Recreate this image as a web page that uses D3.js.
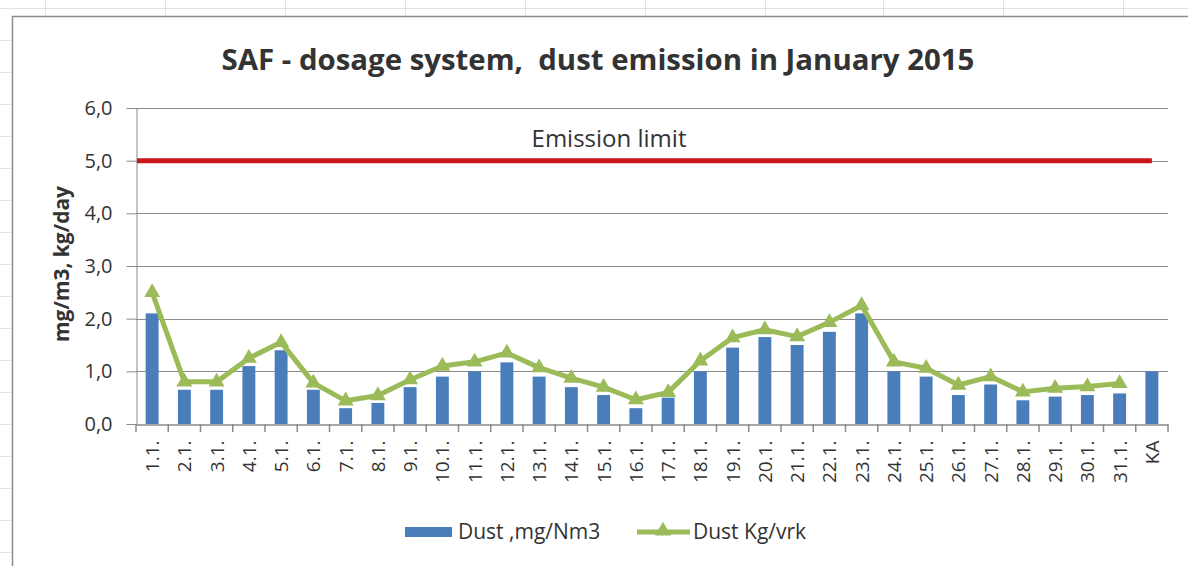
<!DOCTYPE html>
<html lang="en">
<head>
<meta charset="UTF-8">
<title>SAF dust emission January 2015</title>
<style>
  body { margin: 0; background: #fff; }
  text { font-family: "Open Sans", "Liberation Sans", sans-serif; fill: #333; }
  .grid line { stroke: #8a8a8a; stroke-width: 1; }
  .sheet line { stroke: #e2e2e2; stroke-width: 1; }
</style>
</head>
<body>
<svg width="1188" height="566"></svg>
<script src="https://d3js.org/d3.v7.min.js"></script>
<script>
// categories (days of January + KA = average)
var days = ["1.1.", "2.1.", "3.1.", "4.1.", "5.1.", "6.1.", "7.1.", "8.1.", "9.1.", "10.1.",
            "11.1.", "12.1.", "13.1.", "14.1.", "15.1.", "16.1.", "17.1.", "18.1.", "19.1.", "20.1.",
            "21.1.", "22.1.", "23.1.", "24.1.", "25.1.", "26.1.", "27.1.", "28.1.", "29.1.", "30.1.",
            "31.1.", "KA"];

// Dust, mg/Nm3 (bars)
var dustMg = [2.1, 0.65, 0.65, 1.1, 1.4, 0.65, 0.3, 0.4, 0.7, 0.9,
              1.0, 1.17, 0.9, 0.7, 0.55, 0.3, 0.5, 1.0, 1.45, 1.65,
              1.5, 1.75, 2.1, 1.0, 0.9, 0.55, 0.75, 0.45, 0.52, 0.55,
              0.58, 1.0];

// Dust, kg/vrk (line) - no value for KA
var dustKg = [2.5, 0.8, 0.8, 1.25, 1.55, 0.78, 0.44, 0.54, 0.84, 1.1,
              1.18, 1.35, 1.07, 0.87, 0.7, 0.46, 0.6, 1.2, 1.64, 1.79,
              1.66, 1.93, 2.25, 1.18, 1.06, 0.74, 0.9, 0.61, 0.68, 0.71,
              0.77];

var emissionLimit = 5.0;
var yTicks = [0, 1, 2, 3, 4, 5, 6];

var svg = d3.select("svg");

// spreadsheet cells behind the chart
var sheet = svg.append("g").attr("class", "sheet");
sheet.append("line").attr("x1", 0).attr("x2", 1188).attr("y1", 8.5).attr("y2", 8.5);
[45, 165, 285, 405, 525, 645, 765, 883, 1003, 1123].forEach(function (cx) {
    sheet.append("line").attr("x1", cx + 0.5).attr("x2", cx + 0.5).attr("y1", 0).attr("y2", 16);
});
d3.range(40, 566, 32).forEach(function (cy) {
    sheet.append("line").attr("x1", 0).attr("x2", 12).attr("y1", cy + 0.5).attr("y2", cy + 0.5);
});

// chart area border
svg.append("rect")
    .attr("x", 12.5).attr("y", 16.5)
    .attr("width", 1200).attr("height", 600)
    .attr("fill", "#fff")
    .attr("stroke", "#8c8c8c")
    .attr("stroke-width", 1.5);

var plotL = 136, plotR = 1168, plotT = 108, plotB = 424;

var x = d3.scaleBand().domain(days).range([plotL, plotR]).padding(0);
var y = d3.scaleLinear().domain([0, 6]).range([plotB, plotT]);

var fmt = function (d) { return d3.format(".1f")(d).replace(".", ","); };

// gridlines
svg.append("g").attr("class", "grid")
    .selectAll("line").data(yTicks.slice(1)).enter().append("line")
    .attr("x1", plotL).attr("x2", plotR)
    .attr("y1", function (d) { return Math.round(y(d)) + 0.5; })
    .attr("y2", function (d) { return Math.round(y(d)) + 0.5; });

// y axis
var yAxis = svg.append("g")
    .attr("transform", "translate(" + (plotL + 0.5) + ",0)")
    .call(d3.axisLeft(y).tickValues(yTicks).tickFormat(fmt).tickSize(10).tickSizeOuter(0).tickPadding(14));
yAxis.selectAll("path, line").attr("stroke", "#8a8a8a");
yAxis.selectAll("text").style("font-size", "20px").style("font-family", "\"Open Sans\", sans-serif").attr("fill", "#333");

// bars
var barW = x.bandwidth() * 0.4;
svg.append("g").selectAll("rect").data(dustMg).enter().append("rect")
    .attr("x", function (d, i) { return x(days[i]) + (x.bandwidth() - barW) / 2; })
    .attr("y", function (d) { return y(d); })
    .attr("width", barW)
    .attr("height", function (d) { return y(0) - y(d); })
    .attr("fill", "#4a7ebb");

// x axis
var xAxis = svg.append("g")
    .attr("transform", "translate(0," + (plotB + 0.5) + ")")
    .call(d3.axisBottom(x).tickSize(0).tickPadding(0));
xAxis.select("path").attr("stroke", "#8a8a8a").attr("stroke-width", 1.5);
xAxis.selectAll("text")
    .attr("transform", "translate(7,16) rotate(-90)")
    .attr("dy", 0)
    .attr("text-anchor", "end")
    .style("font-size", "19px")
    .style("font-family", "\"Open Sans\", sans-serif")
    .attr("fill", "#333");
// tick marks between categories
svg.append("g").selectAll("line").data(d3.range(days.length + 1)).enter().append("line")
    .attr("x1", function (i) { return plotL + i * x.step(); })
    .attr("x2", function (i) { return plotL + i * x.step(); })
    .attr("y1", plotB).attr("y2", plotB + 8)
    .attr("stroke", "#8a8a8a").attr("stroke-width", 1.5);

// emission limit
svg.append("line")
    .attr("x1", plotL + 1).attr("x2", x(days[days.length - 1]) + x.bandwidth() / 2)
    .attr("y1", y(emissionLimit)).attr("y2", y(emissionLimit))
    .attr("stroke", "#c8161d").attr("stroke-width", 5);

svg.append("text")
    .attr("x", 609).attr("y", 147)
    .attr("text-anchor", "middle")
    .style("font-size", "24px")
    .text("Emission limit");

// kg line
var line = d3.line()
    .x(function (d, i) { return x(days[i]) + x.bandwidth() / 2; })
    .y(function (d) { return y(d); });

svg.append("path").datum(dustKg)
    .attr("d", line)
    .attr("fill", "none")
    .attr("stroke", "#9bbb59")
    .attr("stroke-width", 5)
    .attr("stroke-linejoin", "round");

var tri = d3.symbol().type(d3.symbolTriangle).size(110);
svg.append("g").selectAll("path").data(dustKg).enter().append("path")
    .attr("d", tri)
    .attr("transform", function (d, i) {
        return "translate(" + (x(days[i]) + x.bandwidth() / 2) + "," + y(d) + ")";
    })
    .attr("fill", "#9bbb59");

// title
var title = svg.append("text")
    .attr("x", 598).attr("y", 70)
    .attr("text-anchor", "middle")
    .style("font-size", "28px")
    .style("font-weight", "bold")
    .attr("fill", "#1a1a1a")
    .text("SAF - dosage system,\u00a0 dust emission in January 2015");
// shrink/grow to the width of the original title
var tw = title.node().getComputedTextLength();
title.style("font-size", (28 * 753 / tw).toFixed(1) + "px");

// y axis title
var yt = svg.append("text")
    .attr("transform", "translate(69,264) rotate(-90)")
    .attr("text-anchor", "middle")
    .style("font-size", "16px")
    .style("font-weight", "bold")
    .attr("fill", "#000")
    .text("mg/m3, kg/day");
var yw = yt.node().getComputedTextLength();
yt.style("font-size", (16 * 156 / yw).toFixed(1) + "px");

// legend
var lg = svg.append("g");
lg.append("rect").attr("x", 405).attr("y", 527).attr("width", 47).attr("height", 10).attr("fill", "#4a7ebb");
lg.append("text").attr("x", 458).attr("y", 539).style("font-size", "21px").text("Dust ,mg/Nm3");
lg.append("line").attr("x1", 637).attr("x2", 690).attr("y1", 532).attr("y2", 532)
    .attr("stroke", "#9bbb59").attr("stroke-width", 5);
lg.append("path").attr("d", tri).attr("transform", "translate(663,531)").attr("fill", "#9bbb59");
lg.append("text").attr("x", 693).attr("y", 539).style("font-size", "21px").text("Dust Kg/vrk");
</script>
</body>
</html>
